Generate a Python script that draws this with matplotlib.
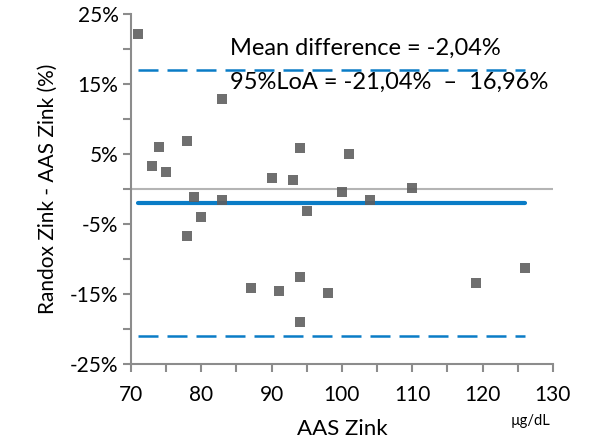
import matplotlib
matplotlib.use("Agg")
import matplotlib.pyplot as plt
import numpy as np
from matplotlib.ticker import MultipleLocator, FuncFormatter

plt.rcParams["font.family"] = ["Lato", "DejaVu Sans"]

# AAS zinc (µg/dL) and relative difference Randox - AAS (%)
aas_zink = [71, 73, 74, 75, 78, 78, 79, 80, 83, 83, 87, 90, 91, 93, 94, 94, 94,
            95, 98, 100, 101, 104, 110, 119, 126]
diff_pct = [22.1, 3.3, 6.0, 2.4, 6.9, -6.7, -1.1, -4.0, 12.8, -1.6, -14.2, 1.5,
            -14.6, 1.3, 5.8, -12.6, -19.0, -3.1, -14.8, -0.5, 5.0, -1.6, 0.1,
            -13.5, -11.3]
mean_diff = -2.04
loa_low = -21.04
loa_high = 16.96

blue = "#0A7CC6"
axis_gray = "#8C8C8C"

fig = plt.figure(figsize=(5.95, 4.46), dpi=100)
ax = fig.add_axes([0.2202, 0.1839, 0.7090, 0.7847])

x_min, x_max = min(aas_zink), max(aas_zink)

# zero line
ax.axhline(0, color="#B4B4B4", lw=1.5, zorder=1)

# limits of agreement and mean difference
ax.plot([x_min, x_max], [loa_high, loa_high], color=blue, lw=1.8,
        dashes=(8, 3.6), zorder=2)
ax.plot([x_min, x_max], [loa_low, loa_low], color=blue, lw=1.8,
        dashes=(8, 3.6), zorder=2)
ax.plot([x_min, x_max], [mean_diff, mean_diff], color=blue, lw=3,
        solid_capstyle="round", zorder=2)

ax.scatter(aas_zink, diff_pct, marker="s", s=58, color="#5F5F5F", alpha=0.9,
           linewidths=0, zorder=3)

ax.set_xlim(70, 130)
ax.set_ylim(-25, 25)
ax.xaxis.set_major_locator(MultipleLocator(10))
ax.xaxis.set_minor_locator(MultipleLocator(5))
ax.yaxis.set_major_locator(MultipleLocator(10, offset=5))
ax.yaxis.set_minor_locator(MultipleLocator(5))
ax.yaxis.set_major_formatter(FuncFormatter(lambda v, p: f"{v:.0f}%"))

for s in ["top", "right"]:
    ax.spines[s].set_visible(False)
for s in ["left", "bottom"]:
    ax.spines[s].set_color(axis_gray)
    ax.spines[s].set_linewidth(1.5)

ax.tick_params(which="both", direction="out", length=6, width=1.5,
               color=axis_gray, labelsize=15, labelcolor="black")
ax.tick_params(axis="x", pad=9)
ax.tick_params(axis="y", pad=3)

ax.set_xlabel("AAS Zink", fontsize=16, labelpad=10)
ax.set_ylabel("Randox Zink - AAS Zink (%)", fontsize=15, labelpad=9)

ax.text(84.1, 20.1, "Mean difference = -2,04%", fontsize=17, va="center")
ax.text(84.1, 15.3, "95%LoA = -21,04%  \u2013  16,96%", fontsize=17, va="center")

fig.text(531 / 595, 1 - 421 / 446, "\u00b5g/dL", fontsize=10.5, ha="center",
         va="center")

fig.savefig("out.png", dpi=100)
